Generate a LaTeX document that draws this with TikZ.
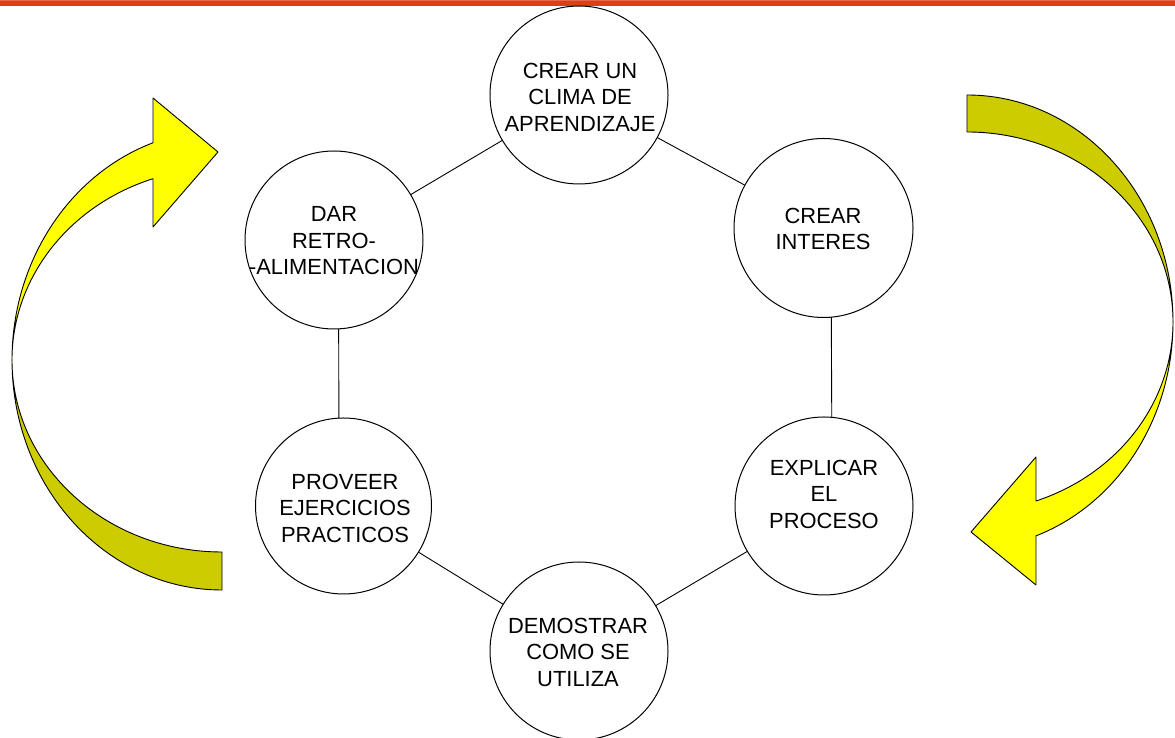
\documentclass[tikz,border=0pt]{standalone}
\usepackage{fontspec}
\setmainfont{Liberation Sans}
\definecolor{barred}{RGB}{222,62,18}
\definecolor{barlight}{RGB}{226,105,75}
\definecolor{arrowlight}{RGB}{255,255,0}
\definecolor{arrowdark}{RGB}{204,204,0}
\begin{document}
\begin{tikzpicture}[x=1pt,y=1pt,
  stage/.style={circle,draw=black,line width=1pt,fill=white,inner sep=0pt,outer sep=0pt},
  stagetext/.style={align=center,font=\fontsize{21.9}{26.5}\selectfont,inner sep=0pt},
  link/.style={draw=black,line width=0.9pt},
  ribbonlight/.style={fill=arrowlight,draw=black,line width=0.9pt,line join=round},
  ribbondark/.style={fill=arrowdark,draw=black,line width=0.9pt,line join=round}]
\useasboundingbox (0,0) rectangle (1175,738);
\fill[barred] (0,731.5) rectangle (1175,736.5);
\fill[barlight] (0,736.5) rectangle (1175,738);

% circles
\node[stage,minimum size=178pt] (c1) at (579,643) {};
\node[stage,minimum size=179pt] (c2) at (823.5,510) {};
\node[stage,minimum size=178pt] (c3) at (334,498) {};
\node[stage,minimum size=176pt] (c4) at (343.5,232) {};
\node[stage,minimum size=178pt] (c5) at (579,87) {};
\node[stage,minimum size=178pt] (c6) at (824,232) {};

% texts
\node[stagetext] (t1) at (580,641) {CREAR UN\\CLIMA DE\\APRENDIZAJE};
\node[stagetext] (t2) at (823,509) {CREAR\\INTERES};
\node[stagetext] (t3) at (334,497) {DAR\\RETRO-\\-ALIMENTACION};
\node[stagetext] (t4) at (345,230) {PROVEER\\EJERCICIOS\\PRACTICOS};
\node[stagetext] (t5) at (578,86) {DEMOSTRAR\\COMO SE\\UTILIZA};
\node[stagetext] (t6) at (824,244) {EXPLICAR\\EL\\PROCESO};

% connectors
\draw[link] (c3) -- (c1);
\draw[link] (c1) -- (c2);
\draw[link] (c2.-85) -- (c6.85);
\draw[link] (c6) -- (c5);
\draw[link] (c5) -- (c4);
\draw[link] (c4.93) -- (c3.-87);

% left curved arrow
\draw[ribbondark] (222,148) arc[start angle=270,end angle=180,x radius=210,y radius=230]
  arc[start angle=180,end angle=270,x radius=210,y radius=192] -- cycle;
\draw[ribbonlight] (12,378) arc[start angle=180,end angle=109.18,x radius=210,y radius=230]
  -- (153,640) -- (218,586) -- (153,511) -- (153,559.3)
  arc[start angle=109.18,end angle=180,x radius=210,y radius=192] -- cycle;

% right curved arrow
\draw[ribbondark] (967,643) arc[start angle=90,end angle=0,x radius=206,y radius=227]
  arc[start angle=0,end angle=90,x radius=206,y radius=190] -- cycle;
\draw[ribbonlight] (1173,416) arc[start angle=0,end angle=-70.43,x radius=206,y radius=227]
  -- (1036,153) -- (971,206) -- (1036,281) -- (1036,237)
  arc[start angle=-70.43,end angle=0,x radius=206,y radius=190] -- cycle;
\end{tikzpicture}
\end{document}
